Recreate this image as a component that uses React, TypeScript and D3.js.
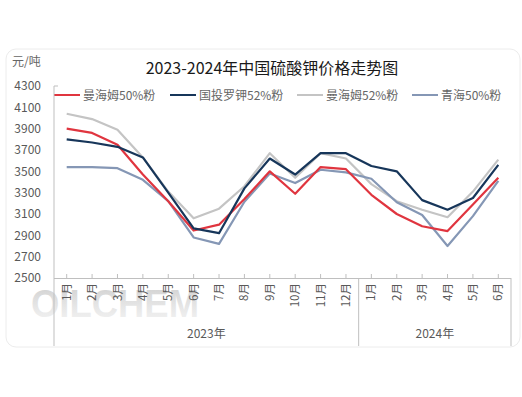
import React from "react";
import * as d3 from "d3";

const months = ["1月","2月","3月","4月","5月","6月","7月","8月","9月","10月","11月","12月","1月","2月","3月","4月","5月","6月"];
const years = ["2023年", "2024年"];
const yearSpans = [12, 6];
const yTicks = [2500, 2700, 2900, 3100, 3300, 3500, 3700, 3900, 4100, 4300];

const seriesNames = ["曼海姆50%粉", "国投罗钾52%粉", "曼海姆52%粉", "青海50%粉"];
const mannheim50 = [3900, 3860, 3750, 3470, 3220, 2945, 3000, 3240, 3500, 3290, 3540, 3520, 3280, 3100, 2985, 2940, 3190, 3440];
const guotou52 = [3800, 3770, 3730, 3630, 3300, 2965, 2920, 3340, 3620, 3470, 3670, 3670, 3550, 3500, 3230, 3140, 3250, 3560];
const mannheim52 = [4040, 3990, 3890, 3630, 3310, 3060, 3150, 3360, 3670, 3440, 3670, 3620, 3380, 3220, 3140, 3070, 3310, 3610];
const qinghai50 = [3540, 3540, 3530, 3420, 3220, 2880, 2820, 3215, 3480, 3390, 3515, 3490, 3430, 3210, 3090, 2800, 3080, 3410];
const seriesData = [mannheim50, guotou52, mannheim52, qinghai50];
const colors = ["#e0353f", "#17365a", "#c4c4c4", "#8597b5"];

const W = 522, H = 397;
const left = 54, right = 511, top = 86, bottom = 278;
const font = "'Noto Sans CJK SC', 'Noto Sans', sans-serif";

export default function App() {
  const x = d3.scaleBand<number>().domain(d3.range(months.length)).range([left, right]);
  const y = d3.scaleLinear().domain([2500, 4300]).range([bottom, top]);
  const cx = (i: number) => (x(i) as number) + x.bandwidth() / 2;
  const line = d3.line<number>().x((_, i) => cx(i)).y((v) => y(v));
  const legendX = [54, 170, 297, 412];

  let acc = 0;
  const yearBounds = yearSpans.map((s) => {
    const a = acc; acc += s; return [a, acc];
  });

  return (
    <svg width={W} height={H} style={{ position: "absolute", left: 0, top: 0, background: "#fff" }}>
      <defs>
        <linearGradient id="wm" x1="0" y1="0" x2="0" y2="1">
          <stop offset="0" stopColor="#bdbdbd" stopOpacity={0.75} />
          <stop offset="1" stopColor="#e6e6e6" stopOpacity={0.45} />
        </linearGradient>
      </defs>
      <rect x={6} y={49} width={514} height={298} rx={10} fill="#fff" stroke="#ececec" />
      <text x={272} y={74} textAnchor="middle" fontFamily={font} fontSize={16} fill="#1a1a1a">2023-2024年中国硫酸钾价格走势图</text>
      <text x={12} y={66} fontFamily={font} fontSize={12} fill="#666">元/吨</text>

      {/* watermark */}
      <text x={31} y={317} fontFamily="'Liberation Sans', Arial, sans-serif" fontWeight="bold" fontSize={38} textLength={168} lengthAdjust="spacingAndGlyphs" fill="url(#wm)">OILCHEM</text>

      {/* legend */}
      {seriesNames.map((n, i) => (
        <g key={n}>
          <line x1={legendX[i]} x2={legendX[i] + 26} y1={95} y2={95} stroke={colors[i]} strokeWidth={2} />
          <text x={legendX[i] + 29} y={99.5} fontFamily={font} fontSize={12} fill="#666">{n}</text>
        </g>
      ))}

      {/* y axis labels */}
      {yTicks.map((t) => (
        <text key={t} x={41} y={y(t)} dy="0.35em" textAnchor="end" fontFamily={font} fontSize={12} fill="#595959">{t}</text>
      ))}
      <line x1={left} x2={left} y1={top} y2={346} stroke="#bfbfbf" />
      <line x1={left} x2={left + 4} y1={top} y2={top} stroke="#bfbfbf" />
      {/* x axis */}
      <line x1={left} x2={right} y1={bottom + 0.5} y2={bottom + 0.5} stroke="#bfbfbf" />
      {months.map((_, i) => (
        <line key={"t" + i} x1={cx(i)} x2={cx(i)} y1={bottom - 4} y2={bottom} stroke="#bfbfbf" />
      ))}
      {yearBounds.map(([a, b], k) => (
        <g key={"y" + k}>
          <line x1={x(b - 1)! + x.bandwidth()} x2={x(b - 1)! + x.bandwidth()} y1={bottom} y2={346} stroke="#bfbfbf" />
          <text x={((x(a) as number) + (x(b - 1) as number) + x.bandwidth()) / 2} y={338} textAnchor="middle" fontFamily={font} fontSize={12} fill="#595959">{years[k]}</text>
        </g>
      ))}
      {months.map((m, i) => (
        <text key={"m" + i} transform={`translate(${cx(i)},${bottom + 5}) rotate(-90)`} dy="0.35em" textAnchor="end" fontFamily={font} fontSize={11.5} fill="#595959">{m}</text>
      ))}

      {/* lines */}
      {[2, 3, 0, 1].map((k) => (
        <path key={"s" + k} d={line(seriesData[k]) || ""} fill="none" stroke={colors[k]} strokeWidth={2.2} strokeLinejoin="round" />
      ))}
    </svg>
  );
}
